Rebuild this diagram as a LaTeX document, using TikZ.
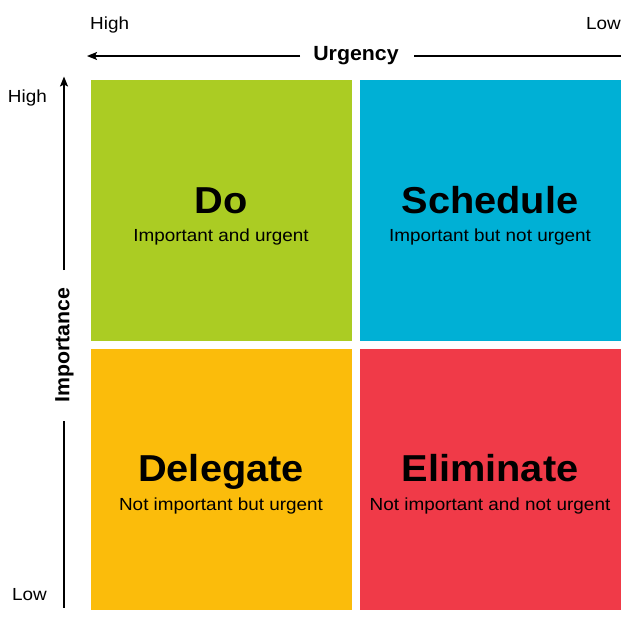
\documentclass[tikz,border=0pt]{standalone}
\usepackage{fontspec}
\setmainfont{Liberation Sans}
\newfontfamily\quadtitlefont[FakeStretch=1.06]{Liberation Sans}
\newfontfamily\quadbodyfont[FakeStretch=1.08]{Liberation Sans}
\newfontfamily\axisnamefont[FakeStretch=1.04]{Liberation Sans}
\usetikzlibrary{arrows.meta}
\definecolor{qgreen}{RGB}{171,204,35}
\definecolor{qblue}{RGB}{0,176,213}
\definecolor{qyellow}{RGB}{251,188,11}
\definecolor{qred}{RGB}{240,58,72}
\begin{document}
\begin{tikzpicture}[x=1pt,y=-1pt,
  quad/.style={draw=none,minimum width=261pt,minimum height=261pt,inner sep=0pt,anchor=north west},
  title/.style={font=\quadtitlefont\bfseries\fontsize{37.5}{40}\selectfont,inner sep=0pt,anchor=base},
  sub/.style={font=\quadbodyfont\fontsize{17.5}{20}\selectfont,inner sep=0pt,anchor=base},
  axislabel/.style={font=\axisnamefont\bfseries\fontsize{20.5}{24}\selectfont,inner sep=0pt},
  tick/.style={font=\quadbodyfont\fontsize{17.5}{20}\selectfont,inner sep=0pt},
  axis/.style={line width=1.4pt},
  arrowed/.style={axis,-{Stealth[length=10pt,width=8pt,inset=2pt]}}]
\useasboundingbox (0,0) rectangle (621,619);
% quadrants
\node[quad,fill=qgreen] (do) at (91,80) {};
\node[quad,fill=qblue] (schedule) at (360,80) {};
\node[quad,fill=qyellow] (delegate) at (91,349) {};
\node[quad,fill=qred] (eliminate) at (360,349) {};
% quadrant texts
\node[title] (tdo) at (221,213) {Do};
\node[sub] (sdo) at (221,241) {Important and urgent};
\node[title] (tsch) at (490,213) {Schedule};
\node[sub] (ssch) at (490,241) {Important but not urgent};
\node[title] (tdel) at (221,481.5) {Delegate};
\node[sub] (sdel) at (221,510) {Not important but urgent};
\node[title] (telim) at (490,481.5) {Eliminate};
\node[sub] (selim) at (490,510) {Not important and not urgent};
% urgency axis
\node[tick,anchor=base west] (uhigh) at (90,29) {High};
\node[tick,anchor=base east] (ulow) at (621,29) {Low};
\node[axislabel] (urg) at (356,56) {Urgency};
\coordinate (uleft) at (87,56);
\coordinate (ugapl) at (300,56);
\coordinate (ugapr) at (414,56);
\coordinate (uright) at (621,56);
\draw[arrowed] (ugapl) -- (uleft);
\draw[axis] (ugapr) -- (uright);
% importance axis
\node[tick,anchor=base east] (ihigh) at (47,102) {High};
\node[tick,anchor=base east] (ilow) at (47,600) {Low};
\node[axislabel,rotate=90] (imp) at (64.5,345) {Importance};
\coordinate (itop) at (64,76.5);
\coordinate (igapt) at (64,270);
\coordinate (igapb) at (64,421);
\coordinate (ibottom) at (64,608);
\draw[arrowed] (igapt) -- (itop);
\draw[axis] (igapb) -- (ibottom);
\end{tikzpicture}
\end{document}
